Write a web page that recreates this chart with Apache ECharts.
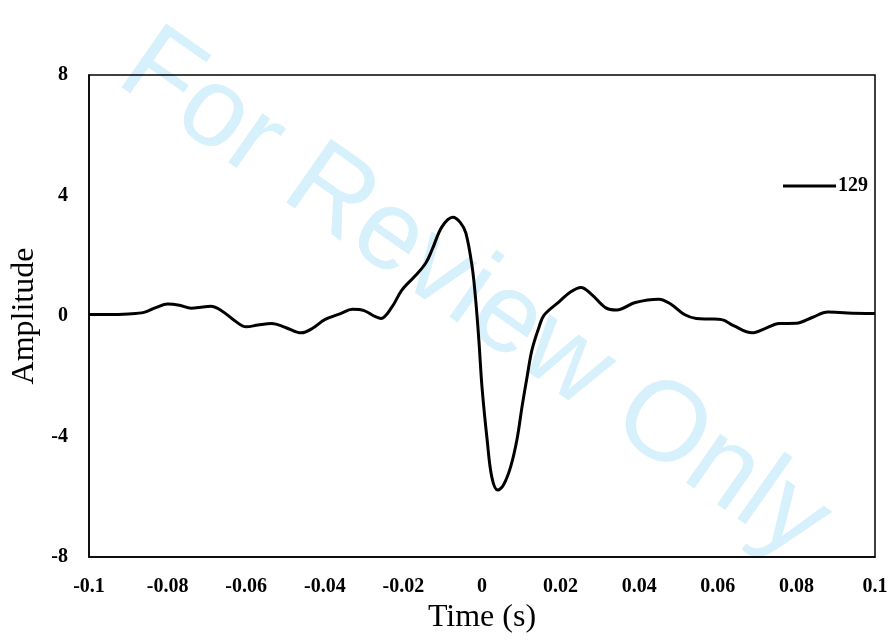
<!DOCTYPE html>
<html>
<head>
<meta charset="utf-8">
<script src="https://cdn.jsdelivr.net/npm/echarts@6/dist/echarts.min.js"></script>
<style>html,body{margin:0;padding:0;background:#fff;}#c{width:893px;height:642px;}</style>
</head>
<body>
<div id="c"></div>
<script>
var seriesName = '129';
var times = [-0.1,-0.095,-0.09,-0.086,-0.083,-0.080,-0.077,-0.074,-0.071,-0.069,-0.066,-0.063,-0.060,-0.057,-0.0535,-0.050,-0.046,-0.043,-0.040,-0.036,-0.033,-0.030,-0.0275,-0.0257,-0.0229,-0.0204,-0.0168,-0.0143,-0.0127,-0.0102,-0.0074,-0.0055,-0.0041,-0.0025,-0.0016,-0.0008,0.0,0.0013,0.0025,0.004,0.0055,0.0073,0.0089,0.0102,0.0115,0.0127,0.0145,0.0158,0.0196,0.0225,0.0252,0.028,0.0315,0.0343,0.039,0.045,0.048,0.0515,0.0545,0.058,0.061,0.064,0.0687,0.072,0.0756,0.080,0.084,0.088,0.093,0.1];
var amplitude = [0.05,0.05,0.07,0.12,0.28,0.40,0.36,0.26,0.30,0.32,0.15,-0.15,-0.36,-0.30,-0.25,-0.38,-0.56,-0.40,-0.12,0.08,0.22,0.18,0.0,-0.08,0.3,0.86,1.36,1.76,2.2,2.96,3.28,3.1,2.75,1.63,0.53,-0.8,-2.36,-4.1,-5.35,-5.78,-5.6,-5.0,-4.1,-3.0,-2.0,-1.13,-0.37,0.03,0.47,0.8,0.95,0.7,0.27,0.2,0.45,0.56,0.4,0.05,-0.08,-0.1,-0.12,-0.32,-0.56,-0.42,-0.25,-0.24,-0.05,0.13,0.1,0.08];
var xTicks = {min: -0.1, max: 0.1, interval: 0.02};
var yTicks = {min: -8, max: 8, interval: 4};

var pts = times.map(function(t, i){ return [t, amplitude[i]]; });
var chart = echarts.init(document.getElementById('c'), null, {renderer: 'canvas'});
var serif = '"Liberation Serif","Times New Roman",serif';
var deg = 35 * Math.PI / 180;
chart.setOption({
  animation: false,
  backgroundColor: '#fff',
  grid: {left: 89, right: 18, top: 75, bottom: 85, show: true, borderColor: '#000', borderWidth: 1.5, backgroundColor: 'transparent', z: 2},
  legend: {
    show: true, left: 778, top: 171, itemWidth: 53, itemHeight: 14, itemGap: 4,
    data: [{name: seriesName, icon: 'path://M0,0 L53,0 L53,3 L0,3 Z'}],
    itemStyle: {color: '#000'},
    textStyle: {fontFamily: serif, fontWeight: 'bold', fontSize: 20, color: '#000', padding: [0,0,0,-3]}
  },
  xAxis: {
    type: 'value', min: xTicks.min, max: xTicks.max, interval: xTicks.interval,
    name: 'Time (s)', nameLocation: 'middle', nameGap: 45,
    nameTextStyle: {fontFamily: serif, fontSize: 32, color: '#000'},
    axisLine: {show: true, onZero: false, lineStyle: {color: '#000', width: 1.5}},
    axisTick: {show: false}, splitLine: {show: false},
    axisLabel: {fontFamily: serif, fontWeight: 'bold', fontSize: 20, color: '#000', margin: 20,
      formatter: function(v){ return String(Math.round(v*100)/100); }}
  },
  yAxis: {
    type: 'value', min: yTicks.min, max: yTicks.max, interval: yTicks.interval,
    name: 'Amplitude', nameLocation: 'middle', nameGap: 33,
    nameTextStyle: {fontFamily: serif, fontSize: 32, color: '#000'},
    axisLine: {show: true, onZero: false, lineStyle: {color: '#000', width: 1.5}},
    axisTick: {show: false}, splitLine: {show: false},
    axisLabel: {fontFamily: serif, fontWeight: 'bold', fontSize: 20, color: '#000', margin: 21}
  },
  series: [{
    name: seriesName, type: 'line', data: pts, smooth: 0.35, symbol: 'none',
    lineStyle: {color: '#000', width: 3}, itemStyle: {color: '#000'}, z: 5
  }],
  graphic: [{
    type: 'text', x: 474, y: 296, rotation: -deg, z: -1, zlevel: 0, silent: true,
    style: {text: 'For Review Only', font: '113px "Liberation Sans", Arial, sans-serif',
      fill: 'rgb(214,240,252)', textAlign: 'center', textVerticalAlign: 'middle'}
  }]
});
</script>
</body>
</html>
